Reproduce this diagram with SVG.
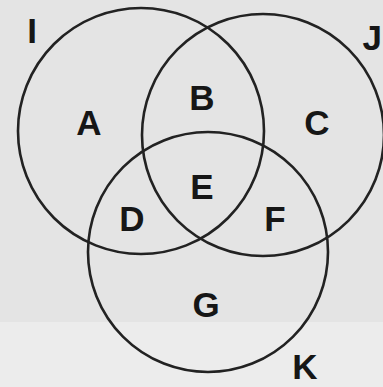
<svg xmlns="http://www.w3.org/2000/svg" width="383" height="387" viewBox="0 0 383 387">
<style>
.c{fill:none;stroke:#222;stroke-width:2.6}
.t{font-family:"Liberation Sans",Arial,sans-serif;font-weight:bold;font-size:35px;fill:#161616;text-anchor:middle}
</style>
<rect x="0" y="0" width="383" height="387" fill="#e4e4e4"/>
<rect x="0" y="322" width="383" height="65" fill="#ececec"/>
<g id="circles">
<g id="circle-I"><circle class="c" cx="141" cy="131" r="123"/></g>
<g id="circle-J"><circle class="c" cx="263" cy="135" r="121"/></g>
<g id="circle-K"><circle class="c" cx="208" cy="252" r="120"/></g>
</g>
<g id="labels">
<text class="t" x="32" y="43">I</text>
<text class="t" x="382" y="50" style="text-anchor:end">J</text>
<text class="t" x="305" y="379">K</text>
<text class="t" x="89" y="135">A</text>
<text class="t" x="202" y="110">B</text>
<text class="t" x="317" y="135">C</text>
<text class="t" x="132" y="231">D</text>
<text class="t" x="202" y="199">E</text>
<text class="t" x="275" y="231">F</text>
<text class="t" x="206" y="317">G</text>
</g>
</svg>
